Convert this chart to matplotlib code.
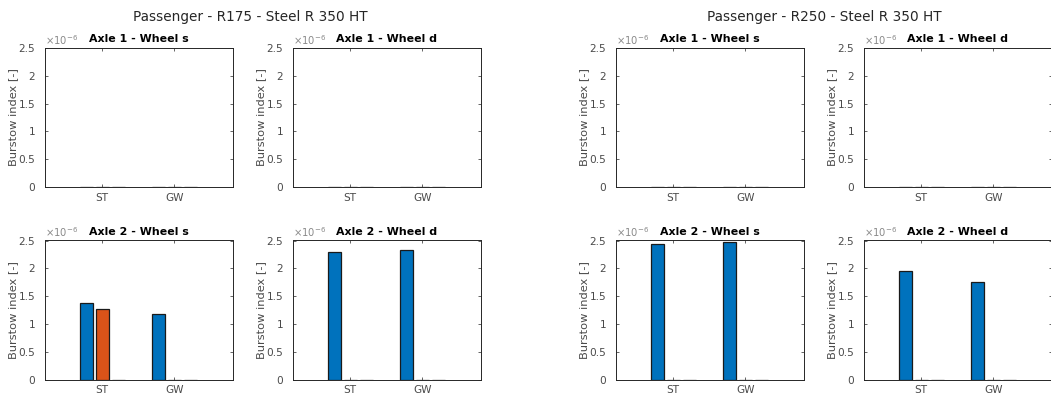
import matplotlib
matplotlib.use("Agg")
import matplotlib.pyplot as plt
from matplotlib.ticker import FuncFormatter
import numpy as np

# Categories on the x axis and the three bar series of each panel
categories = ["ST", "GW"]

# rows = series 1..3, columns = categories (ST, GW)
r175_axle1_wheel_s = [[0.0, 0.0], [0.0, 0.0], [0.0, 0.0]]
r175_axle1_wheel_d = [[0.0, 0.0], [0.0, 0.0], [0.0, 0.0]]
r175_axle2_wheel_s = [[1.37e-6, 1.17e-6], [1.26e-6, 0.0], [0.0, 0.0]]
r175_axle2_wheel_d = [[2.30e-6, 2.33e-6], [0.0, 0.0], [0.0, 0.0]]

r250_axle1_wheel_s = [[0.0, 0.0], [0.0, 0.0], [0.0, 0.0]]
r250_axle1_wheel_d = [[0.0, 0.0], [0.0, 0.0], [0.0, 0.0]]
r250_axle2_wheel_s = [[2.44e-6, 2.48e-6], [0.0, 0.0], [0.0, 0.0]]
r250_axle2_wheel_d = [[1.96e-6, 1.76e-6], [0.0, 0.0], [0.0, 0.0]]

panel_titles = ["Axle 1 - Wheel s", "Axle 1 - Wheel d",
                "Axle 2 - Wheel s", "Axle 2 - Wheel d"]
group_titles = ["Passenger - R175 - Steel R 350 HT",
                "Passenger - R250 - Steel R 350 HT"]
y_ticks = [0, 0.5e-6, 1e-6, 1.5e-6, 2e-6, 2.5e-6]

series_colors = ["#0072BD", "#D95319", "#EDB120"]
text_gray = "#4a4a4a"

W, H = 1051, 398
fig = plt.figure(figsize=(W / 100, H / 100), dpi=100)
fig.patch.set_facecolor("white")

col_left = [45, 293, 616, 864]
row_top = [48, 240.5]
ax_w, ax_h = 188, 139

layout = [
    (0, 0, r175_axle1_wheel_s, panel_titles[0]),
    (0, 1, r175_axle1_wheel_d, panel_titles[1]),
    (1, 0, r175_axle2_wheel_s, panel_titles[2]),
    (1, 1, r175_axle2_wheel_d, panel_titles[3]),
    (0, 2, r250_axle1_wheel_s, panel_titles[0]),
    (0, 3, r250_axle1_wheel_d, panel_titles[1]),
    (1, 2, r250_axle2_wheel_s, panel_titles[2]),
    (1, 3, r250_axle2_wheel_d, panel_titles[3]),
]

x = np.arange(1, len(categories) + 1)
step = 0.222
bar_w = 0.18
offsets = [-step, 0.0, step]

for row, col, data, title in layout:
    left = col_left[col] / W
    bottom = 1 - (row_top[row] + ax_h) / H
    ax = fig.add_axes([left, bottom, ax_w / W, ax_h / H])
    for k, series in enumerate(data):
        ax.bar(x + offsets[k], series, width=bar_w, color=series_colors[k],
               edgecolor="#1a1a1a", linewidth=0.9, zorder=2)
    ax.set_xlim(0.21, 2.81)
    ax.set_ylim(0, 2.5e-6)
    ax.set_xticks(x)
    ax.set_xticklabels(categories)
    ax.set_yticks(y_ticks)
    ax.yaxis.set_major_formatter(FuncFormatter(lambda v, _: f"{v * 1e6:g}"))
    ax.tick_params(direction="in", length=2.5, width=0.6, top=True, right=True,
                   labelsize=7.6, colors=text_gray, labelcolor=text_gray)
    ax.tick_params(axis="y", pad=7)
    ax.tick_params(axis="x", pad=4)
    for sp in ax.spines.values():
        sp.set_linewidth(0.7)
        sp.set_color("#262626")
    ax.set_ylabel("Burstow index [-]", fontsize=8.2, color=text_gray, labelpad=0.5)
    ax.set_title(title, fontsize=7.9, fontweight="bold", pad=4)
    ax.text(0.0, 1.01, r"$\times10^{-6}$", transform=ax.transAxes,
            fontsize=7.2, color="#8a8a8a", ha="left", va="bottom")

fig.text(250 / W, 1 - 17.5 / H, group_titles[0], fontsize=9.8,
         ha="center", va="center", color="#262626")
fig.text(824 / W, 1 - 17.5 / H, group_titles[1], fontsize=9.8,
         ha="center", va="center", color="#262626")

fig.savefig("out.png", dpi=100, facecolor="white")
